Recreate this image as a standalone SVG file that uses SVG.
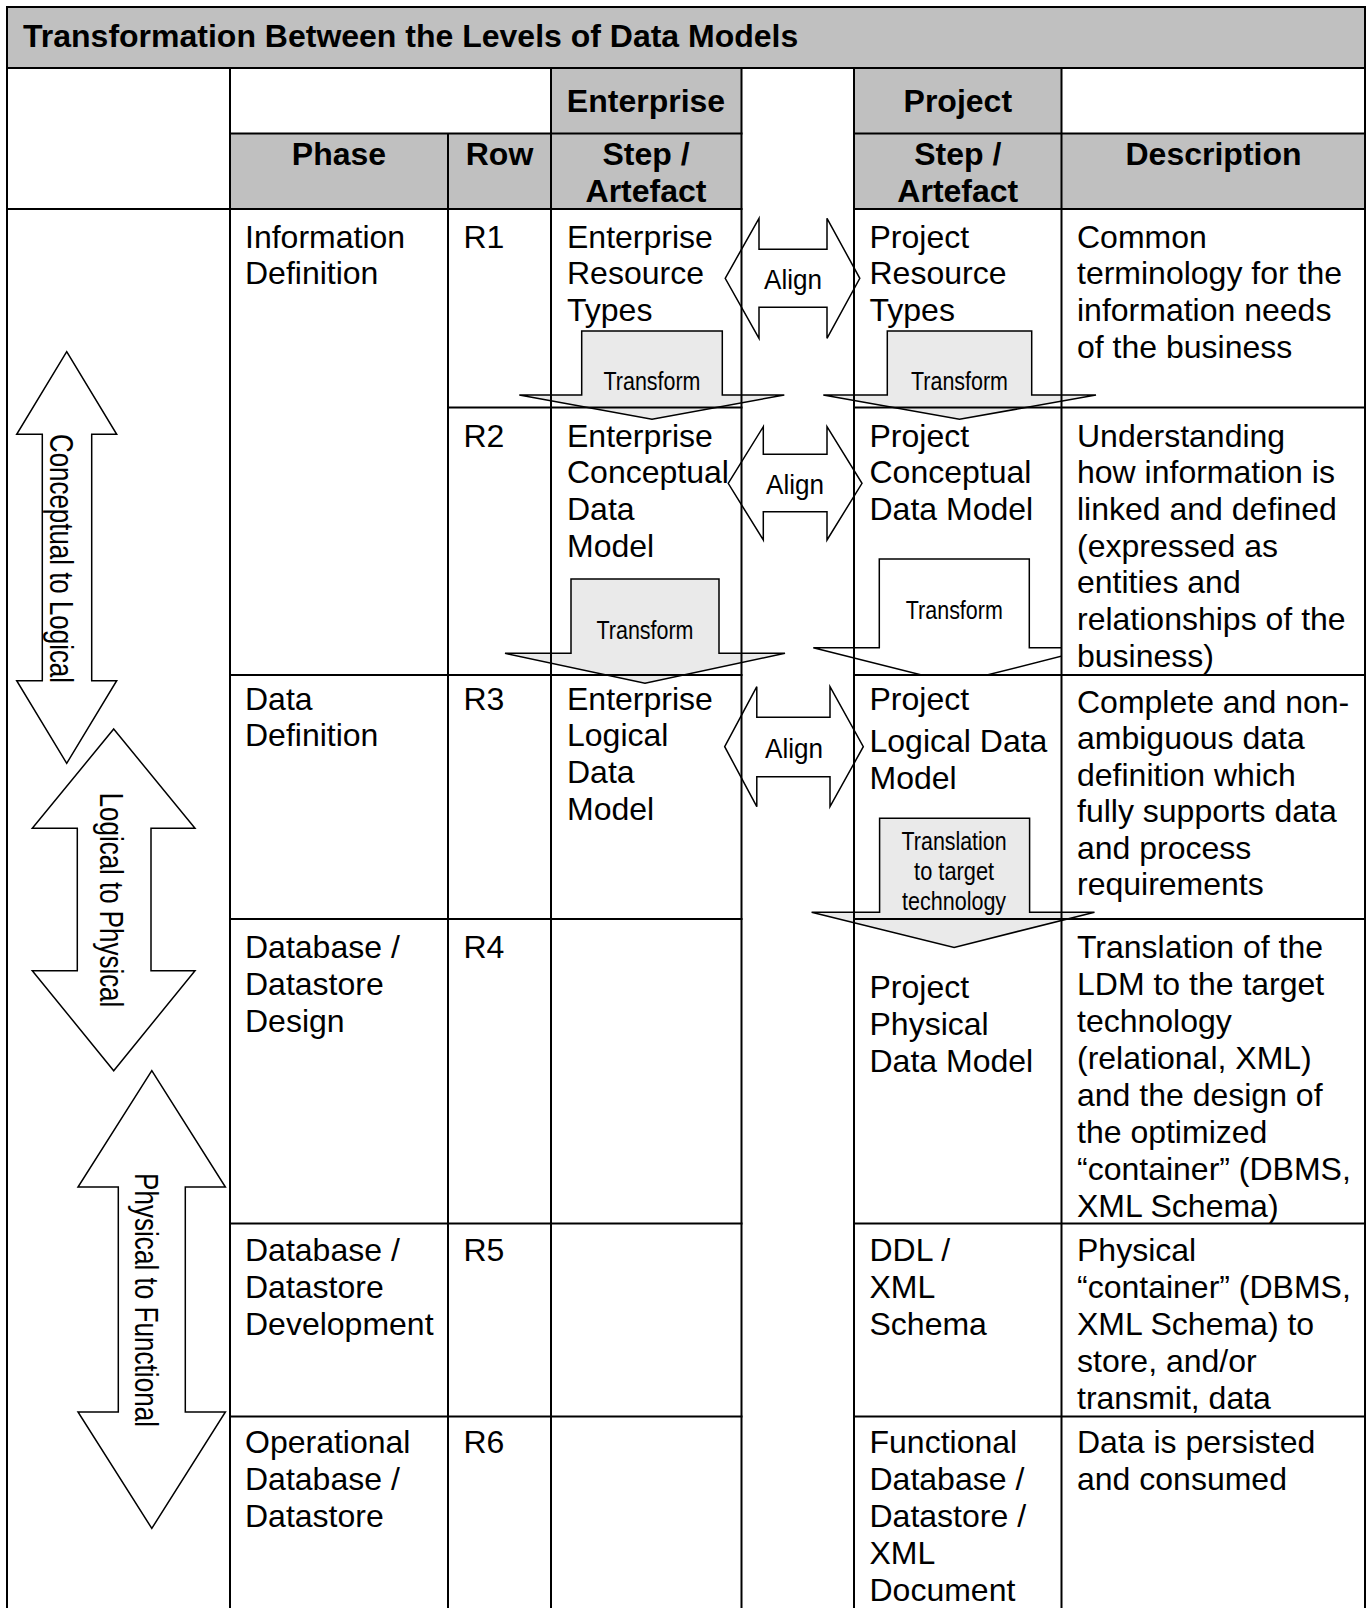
<svg xmlns="http://www.w3.org/2000/svg" width="1368" height="1608" viewBox="0 0 1368 1608">
  <style>
    .hdr { fill: #c0c0c0; }
    .grid line { stroke: #000; stroke-width: 2; }
    .arrow { fill: #ffffff; stroke: #000; stroke-width: 1.5; stroke-linejoin: miter; }
    .arrow.shade { fill: #eaeaea; }
    text { font-family: "Liberation Sans", Arial, sans-serif; fill: #000; }
    .t { font-size: 32px; }
    .b { font-weight: bold; }
    .c { text-anchor: middle; }
    .lbl { font-size: 25px; text-anchor: middle; }
    .align { font-size: 28px; text-anchor: middle; }
    .side { font-size: 33px; }
  </style>
  <defs>
    <clipPath id="projCellClip">
      <rect x="700" y="500" width="361.5" height="175"/>
    </clipPath>
  </defs>

  <rect width="1368" height="1608" fill="#ffffff"/>

  <!-- header shading -->
  <g id="header-fills">
    <rect class="hdr" x="7" y="7" width="1358" height="61"/>
    <rect class="hdr" x="551" y="68" width="190.5" height="65.5"/>
    <rect class="hdr" x="854" y="68" width="207.5" height="65.5"/>
    <rect class="hdr" x="230" y="133.5" width="511.5" height="75.5"/>
    <rect class="hdr" x="854" y="133.5" width="511" height="75.5"/>
  </g>

  <!-- phase-span arrows down the left column -->
  <g id="phase-arrows">
    <g id="arrow-conceptual-logical">
      <path class="arrow" d="M66.7,351.7 L116.7,434.3 L91.7,434.3 L91.7,680.7 L116.7,680.7 L66.7,763.3 L16.7,680.7 L42.3,680.7 L42.3,434.3 L16.7,434.3 Z"/>
      <text class="side" transform="translate(49.5,434) rotate(90)" textLength="249" lengthAdjust="spacingAndGlyphs">Conceptual to Logical</text>
    </g>
    <g id="arrow-logical-physical">
      <path class="arrow" d="M113.7,729 L195,828.3 L151,828.3 L151,970.7 L195,970.7 L113.7,1070.7 L32.3,970.7 L77.3,970.7 L77.3,828.3 L32.3,828.3 Z"/>
      <text class="side" transform="translate(100,792.7) rotate(90)" textLength="214.6" lengthAdjust="spacingAndGlyphs">Logical to Physical</text>
    </g>
    <g id="arrow-physical-functional">
      <path class="arrow" d="M151.8,1070.7 L225.4,1187 L185.3,1187 L185.3,1412 L225.4,1412 L151.8,1528.4 L78,1412 L118.3,1412 L118.3,1187 L78,1187 Z"/>
      <text class="side" transform="translate(135,1173) rotate(90)" textLength="254" lengthAdjust="spacingAndGlyphs">Physical to Functional</text>
    </g>
  </g>

  <!-- transform / align connectors between artefacts -->
  <g id="connectors">
    <g id="transform-ent-r1-r2">
      <path class="arrow shade" d="M581.7,331 H722.3 V395 H784.3 L652,419.3 L519.3,395 H581.7 Z"/>
      <text class="lbl" x="652" y="389.5" textLength="97" lengthAdjust="spacingAndGlyphs">Transform</text>
    </g>
    <g id="transform-proj-r1-r2">
      <path class="arrow shade" d="M887.3,331 H1031.7 V395 H1096 L959.5,419.3 L823.3,395 H887.3 Z"/>
      <text class="lbl" x="959.5" y="389.5" textLength="97" lengthAdjust="spacingAndGlyphs">Transform</text>
    </g>
    <g id="transform-ent-r2-r3">
      <path class="arrow shade" d="M571,579 H719 V653.3 H785 L645,683.3 L505,653.3 H571 Z"/>
      <text class="lbl" x="645" y="638.5" textLength="97" lengthAdjust="spacingAndGlyphs">Transform</text>
    </g>
    <g id="transform-proj-r2-r3">
      <path class="arrow" clip-path="url(#projCellClip)" d="M879.3,559 H1029.3 V647.7 H1095.3 L954.3,683.2 L813.3,647.7 H879.3 Z"/>
      <text class="lbl" x="954.3" y="618.5" textLength="97" lengthAdjust="spacingAndGlyphs">Transform</text>
    </g>
    <g id="translate-proj-r3-r4">
      <path class="arrow shade" d="M879.6,818.3 H1029.6 V912.2 H1094.5 L954.1,947.4 L811.6,912.2 H879.6 Z"/>
      <text class="lbl" x="954.1" y="850" textLength="105" lengthAdjust="spacingAndGlyphs">Translation</text>
      <text class="lbl" x="954.1" y="880" textLength="80" lengthAdjust="spacingAndGlyphs">to target</text>
      <text class="lbl" x="954.1" y="910" textLength="104" lengthAdjust="spacingAndGlyphs">technology</text>
    </g>
    <g id="align-r1">
      <path class="arrow" d="M725.2,278.3 L759,218.3 V249.3 H827 V218.3 L859.8,278.3 L827,338.3 V307.3 H759 V338.3 Z"/>
      <text class="align" x="793" y="289" textLength="58" lengthAdjust="spacingAndGlyphs">Align</text>
    </g>
    <g id="align-r2">
      <path class="arrow" d="M728.2,483.3 L763.3,426.7 V454.3 H827 V426.7 L862,483.3 L827,540 V511.7 H763.3 V540 Z"/>
      <text class="align" x="795" y="494" textLength="58" lengthAdjust="spacingAndGlyphs">Align</text>
    </g>
    <g id="align-r3">
      <path class="arrow" d="M724.7,746.7 L756.8,686.7 V717.3 H830 V686.7 L863.3,746.7 L830,806.7 V776.7 H756.8 V806.7 Z"/>
      <text class="align" x="794" y="757.5" textLength="58" lengthAdjust="spacingAndGlyphs">Align</text>
    </g>
  </g>

  <!-- table rules -->
  <g id="grid" class="grid">
    <line x1="6" y1="7" x2="1366" y2="7"/>
    <line x1="6" y1="68" x2="1366" y2="68"/>
    <line x1="229" y1="133.5" x2="742.5" y2="133.5"/>
    <line x1="853" y1="133.5" x2="1366" y2="133.5"/>
    <line x1="6" y1="209" x2="742.5" y2="209"/>
    <line x1="853" y1="209" x2="1366" y2="209"/>
    <line x1="447" y1="407.5" x2="742.5" y2="407.5"/>
    <line x1="853" y1="407.5" x2="1366" y2="407.5"/>
    <line x1="229" y1="675" x2="742.5" y2="675"/>
    <line x1="853" y1="675" x2="1366" y2="675"/>
    <line x1="229" y1="919" x2="742.5" y2="919"/>
    <line x1="853" y1="919" x2="1366" y2="919"/>
    <line x1="229" y1="1223.5" x2="742.5" y2="1223.5"/>
    <line x1="853" y1="1223.5" x2="1366" y2="1223.5"/>
    <line x1="229" y1="1416.5" x2="742.5" y2="1416.5"/>
    <line x1="853" y1="1416.5" x2="1366" y2="1416.5"/>
    <line x1="7" y1="6" x2="7" y2="1608"/>
    <line x1="230" y1="68" x2="230" y2="1608"/>
    <line x1="448" y1="133.5" x2="448" y2="1608"/>
    <line x1="551" y1="68" x2="551" y2="1608"/>
    <line x1="741.5" y1="68" x2="741.5" y2="1608"/>
    <line x1="854" y1="68" x2="854" y2="1608"/>
    <line x1="1061.5" y1="68" x2="1061.5" y2="1608"/>
    <line x1="1365" y1="6" x2="1365" y2="1608"/>
  </g>

  <!-- headings -->
  <g id="title">
    <text class="t b" x="23" y="46.5">Transformation Between the Levels of Data Models</text>
  </g>
  <g id="head-enterprise"><text class="t b c" x="646" y="112">Enterprise</text></g>
  <g id="head-project"><text class="t b c" x="957.8" y="112">Project</text></g>
  <g id="head-phase"><text class="t b c" x="339" y="165">Phase</text></g>
  <g id="head-row"><text class="t b c" x="499.5" y="165">Row</text></g>
  <g id="head-ent-step">
    <text class="t b c" x="646" y="165">Step /</text>
    <text class="t b c" x="646" y="202">Artefact</text>
  </g>
  <g id="head-proj-step">
    <text class="t b c" x="957.8" y="165">Step /</text>
    <text class="t b c" x="957.8" y="202">Artefact</text>
  </g>
  <g id="head-description"><text class="t b c" x="1213.5" y="165">Description</text></g>

  <!-- R1 -->
  <g id="phase-information-definition">
    <text class="t" x="245" y="247.5">Information</text>
    <text class="t" x="245" y="284.4">Definition</text>
  </g>
  <g id="row-r1"><text class="t" x="463.5" y="247.5">R1</text></g>
  <g id="ent-resource-types">
    <text class="t" x="567" y="247.5">Enterprise</text>
    <text class="t" x="567" y="284.4">Resource</text>
    <text class="t" x="567" y="321.3">Types</text>
  </g>
  <g id="proj-resource-types">
    <text class="t" x="869.5" y="247.5">Project</text>
    <text class="t" x="869.5" y="284.4">Resource</text>
    <text class="t" x="869.5" y="321.3">Types</text>
  </g>
  <g id="desc-r1">
    <text class="t" x="1077" y="247.5">Common</text>
    <text class="t" x="1077" y="284.4">terminology for the</text>
    <text class="t" x="1077" y="321.3">information needs</text>
    <text class="t" x="1077" y="358.2">of the business</text>
  </g>

  <!-- R2 -->
  <g id="row-r2"><text class="t" x="463.5" y="446.5">R2</text></g>
  <g id="ent-conceptual-model">
    <text class="t" x="567" y="446.5">Enterprise</text>
    <text class="t" x="567" y="483.2">Conceptual</text>
    <text class="t" x="567" y="519.9">Data</text>
    <text class="t" x="567" y="556.6">Model</text>
  </g>
  <g id="proj-conceptual-model">
    <text class="t" x="869.5" y="446.5">Project</text>
    <text class="t" x="869.5" y="483.2">Conceptual</text>
    <text class="t" x="869.5" y="519.9">Data Model</text>
  </g>
  <g id="desc-r2">
    <text class="t" x="1077" y="446.5">Understanding</text>
    <text class="t" x="1077" y="483.2">how information is</text>
    <text class="t" x="1077" y="519.9">linked and defined</text>
    <text class="t" x="1077" y="556.6">(expressed as</text>
    <text class="t" x="1077" y="593.3">entities and</text>
    <text class="t" x="1077" y="630">relationships of the</text>
    <text class="t" x="1077" y="666.7">business)</text>
  </g>

  <!-- R3 -->
  <g id="phase-data-definition">
    <text class="t" x="245" y="709.5">Data</text>
    <text class="t" x="245" y="746.3">Definition</text>
  </g>
  <g id="row-r3"><text class="t" x="463.5" y="709.5">R3</text></g>
  <g id="ent-logical-model">
    <text class="t" x="567" y="709.5">Enterprise</text>
    <text class="t" x="567" y="746.3">Logical</text>
    <text class="t" x="567" y="783.1">Data</text>
    <text class="t" x="567" y="819.9">Model</text>
  </g>
  <g id="proj-logical-model">
    <text class="t" x="869.5" y="709.5">Project</text>
    <text class="t" x="869.5" y="751.5">Logical Data</text>
    <text class="t" x="869.5" y="788.5">Model</text>
  </g>
  <g id="desc-r3">
    <text class="t" x="1077" y="713">Complete and non-</text>
    <text class="t" x="1077" y="749.4">ambiguous data</text>
    <text class="t" x="1077" y="785.8">definition which</text>
    <text class="t" x="1077" y="822.2">fully supports data</text>
    <text class="t" x="1077" y="858.6">and process</text>
    <text class="t" x="1077" y="895">requirements</text>
  </g>

  <!-- R4 -->
  <g id="phase-datastore-design">
    <text class="t" x="245" y="958">Database /</text>
    <text class="t" x="245" y="995">Datastore</text>
    <text class="t" x="245" y="1032">Design</text>
  </g>
  <g id="row-r4"><text class="t" x="463.5" y="958">R4</text></g>
  <g id="proj-physical-model">
    <text class="t" x="869.5" y="997.5">Project</text>
    <text class="t" x="869.5" y="1034.5">Physical</text>
    <text class="t" x="869.5" y="1071.5">Data Model</text>
  </g>
  <g id="desc-r4">
    <text class="t" x="1077" y="958">Translation of the</text>
    <text class="t" x="1077" y="995">LDM to the target</text>
    <text class="t" x="1077" y="1032">technology</text>
    <text class="t" x="1077" y="1069">(relational, XML)</text>
    <text class="t" x="1077" y="1106">and the design of</text>
    <text class="t" x="1077" y="1143">the optimized</text>
    <text class="t" x="1077" y="1180">“container” (DBMS,</text>
    <text class="t" x="1077" y="1217">XML Schema)</text>
  </g>

  <!-- R5 -->
  <g id="phase-datastore-development">
    <text class="t" x="245" y="1261">Database /</text>
    <text class="t" x="245" y="1298">Datastore</text>
    <text class="t" x="245" y="1335">Development</text>
  </g>
  <g id="row-r5"><text class="t" x="463.5" y="1261">R5</text></g>
  <g id="proj-ddl-schema">
    <text class="t" x="869.5" y="1261">DDL /</text>
    <text class="t" x="869.5" y="1298">XML</text>
    <text class="t" x="869.5" y="1335">Schema</text>
  </g>
  <g id="desc-r5">
    <text class="t" x="1077" y="1261">Physical</text>
    <text class="t" x="1077" y="1298">“container” (DBMS,</text>
    <text class="t" x="1077" y="1335">XML Schema) to</text>
    <text class="t" x="1077" y="1372">store, and/or</text>
    <text class="t" x="1077" y="1409">transmit, data</text>
  </g>

  <!-- R6 -->
  <g id="phase-operational-datastore">
    <text class="t" x="245" y="1453">Operational</text>
    <text class="t" x="245" y="1490">Database /</text>
    <text class="t" x="245" y="1527">Datastore</text>
  </g>
  <g id="row-r6"><text class="t" x="463.5" y="1453">R6</text></g>
  <g id="proj-functional-datastore">
    <text class="t" x="869.5" y="1453">Functional</text>
    <text class="t" x="869.5" y="1490">Database /</text>
    <text class="t" x="869.5" y="1527">Datastore /</text>
    <text class="t" x="869.5" y="1564">XML</text>
    <text class="t" x="869.5" y="1601">Document</text>
  </g>
  <g id="desc-r6">
    <text class="t" x="1077" y="1453">Data is persisted</text>
    <text class="t" x="1077" y="1490">and consumed</text>
  </g>
</svg>
